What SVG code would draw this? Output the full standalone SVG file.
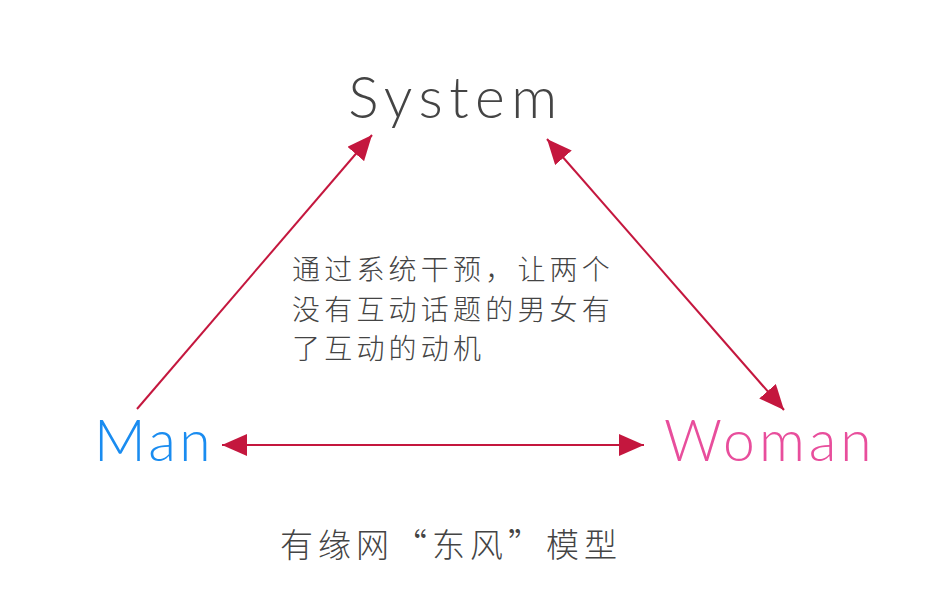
<svg xmlns="http://www.w3.org/2000/svg" width="950" height="593" viewBox="0 0 950 593">
<style>
.lbl{font-family:Lato,"Open Sans","Liberation Sans",sans-serif;font-weight:300;font-size:57px;}
.cjk{font-family:"Noto Sans CJK SC","Noto Sans",sans-serif;fill:#444;font-weight:300;}
.conn{stroke:#c4173e;stroke-width:2;fill:none;}
</style>
<defs>
<marker id="ah" markerUnits="userSpaceOnUse" markerWidth="26" markerHeight="22" refX="25" refY="11" orient="auto-start-reverse" viewBox="0 0 26 22">
<path d="M0,0 L25,11 L0,22 z" fill="#c4173e"/>
</marker>
</defs>
<rect width="950" height="593" fill="#fff"/>
<g id="connectors">
<path class="conn" d="M137,409 L372,135" marker-end="url(#ah)"/>
<path class="conn" d="M547,139 L784,410" marker-start="url(#ah)" marker-end="url(#ah)"/>
<path class="conn" d="M222,445 L644,445" marker-start="url(#ah)" marker-end="url(#ah)"/>
</g>
<g id="system"><text class="lbl" x="456" y="118" text-anchor="middle" fill="#444" letter-spacing="6.5">System</text></g>
<g id="man"><text class="lbl" x="94" y="461" fill="#1a8cf0" letter-spacing="3.5">Man</text></g>
<g id="woman"><text class="lbl" x="664" y="461" fill="#e84e9c" letter-spacing="4">Woman</text></g>
<g id="note">
<text class="cjk" font-size="28" letter-spacing="4.2">
<tspan x="292" y="280">通过系统干预，让两个</tspan>
<tspan x="292" y="320">没有互动话题的男女有</tspan>
<tspan x="292" y="359">了互动的动机</tspan>
</text>
</g>
<g id="caption"><text class="cjk" font-size="33" letter-spacing="5" x="280" y="557">有缘网“东风”模型</text></g>
</svg>
